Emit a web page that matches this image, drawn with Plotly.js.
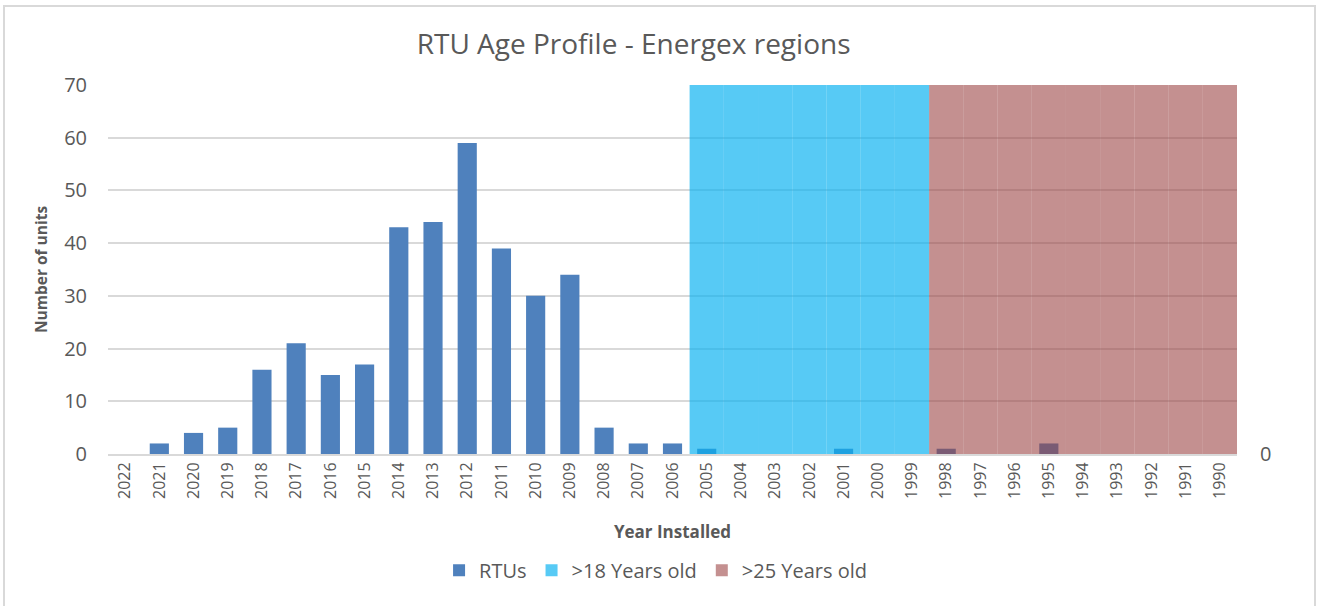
<!DOCTYPE html>
<html>
<head>
<meta charset="utf-8">
<script src="https://cdn.plot.ly/plotly-3.0.1.min.js"></script>
<style>
  html, body { margin: 0; padding: 0; background: #fff; }
  #frame { position: absolute; left: 3px; top: 5px; width: 1313px; height: 620px; border: 2px solid #D9D9D9; box-sizing: border-box; pointer-events: none; z-index: 5; }
  #chart { position: absolute; left: 0; top: 0; width: 1320px; height: 606px; }
</style>
</head>
<body>
<div id="chart"></div>
<div id="frame"></div>
<script>
const years = ['2022','2021','2020','2019','2018','2017','2016','2015','2014','2013','2012','2011','2010','2009','2008','2007','2006','2005','2004','2003','2002','2001','2000','1999','1998','1997','1996','1995','1994','1993','1992','1991','1990'];
const rtus = [0,2,4,5,16,21,15,17,43,44,59,39,30,34,5,2,2,1,0,0,0,1,0,0,1,0,0,2,0,0,0,0,0];
const over18 = [null,null,null,null,null,null,null,null,null,null,null,null,null,null,null,null,null,70,70,70,70,70,70,70,null,null,null,null,null,null,null,null,null];
const over25 = [null,null,null,null,null,null,null,null,null,null,null,null,null,null,null,null,null,null,null,null,null,null,null,null,70,70,70,70,70,70,70,70,70];

const fontFam = 'Open Sans, Noto Sans, sans-serif';
const gray = '#595959';

const traces = [
  { type: 'bar', name: 'RTUs', x: years, y: rtus, width: 0.56,
    marker: { color: '#4F81BD' }, xaxis: 'x', yaxis: 'y' },
  { type: 'bar', name: '>18 Years old', x: years, y: over18, width: 1,
    marker: { color: 'rgba(8,177,240,0.68)', line: { width: 0 } }, xaxis: 'x', yaxis: 'y2' },
  { type: 'bar', name: '>25 Years old', x: years, y: over25, width: 1,
    marker: { color: 'rgba(153,64,64,0.58)', line: { width: 0 } }, xaxis: 'x', yaxis: 'y2' }
];

const layout = {
  width: 1320, height: 606,
  margin: { l: 108, r: 83, t: 85, b: 152 },
  paper_bgcolor: '#fff', plot_bgcolor: '#fff',
  barmode: 'overlay',
  font: { family: fontFam, color: gray },
  title: { text: 'RTU Age Profile - Energex regions', x: 0.48, xanchor: 'center', xref: 'container', y: 0.927, yanchor: 'middle',
           font: { family: fontFam, size: 28, color: gray } },
  xaxis: {
    type: 'category', categoryorder: 'array', categoryarray: years,
    tickangle: -90, tickfont: { size: 16, color: gray }, ticks: '',
    showgrid: false, showline: true, linecolor: '#D9D9D9', linewidth: 2,
    title: { text: 'Year Installed', font: { size: 17, color: gray, family: fontFam, weight: 'bold' }, standoff: 28 },
    range: [-0.5, 32.5]
  },
  yaxis: {
    range: [0, 70], dtick: 10, tickfont: { size: 20, color: gray },
    showgrid: true, gridcolor: '#D9D9D9', gridwidth: 2, zeroline: false,
    showline: false, ticks: '', ticklabelstandoff: 20,
    title: { text: 'Number of units', font: { size: 15.5, color: gray, weight: 'bold' }, standoff: 12 }
  },
  yaxis2: {
    overlaying: 'y', side: 'right', range: [0, 70], tickvals: [0], ticktext: ['0'],
    tickfont: { size: 20, color: gray }, showgrid: false, zeroline: false, showline: false,
    ticks: '', ticklabelstandoff: 22
  },
  legend: { orientation: 'h', x: 0.485, xanchor: 'center', y: -0.315, yanchor: 'middle',
            font: { size: 20, color: gray }, traceorder: 'normal', itemwidth: 30 },
  showlegend: true
};

Plotly.newPlot('chart', traces, layout, { displayModeBar: false, staticPlot: true });
</script>
</body>
</html>
